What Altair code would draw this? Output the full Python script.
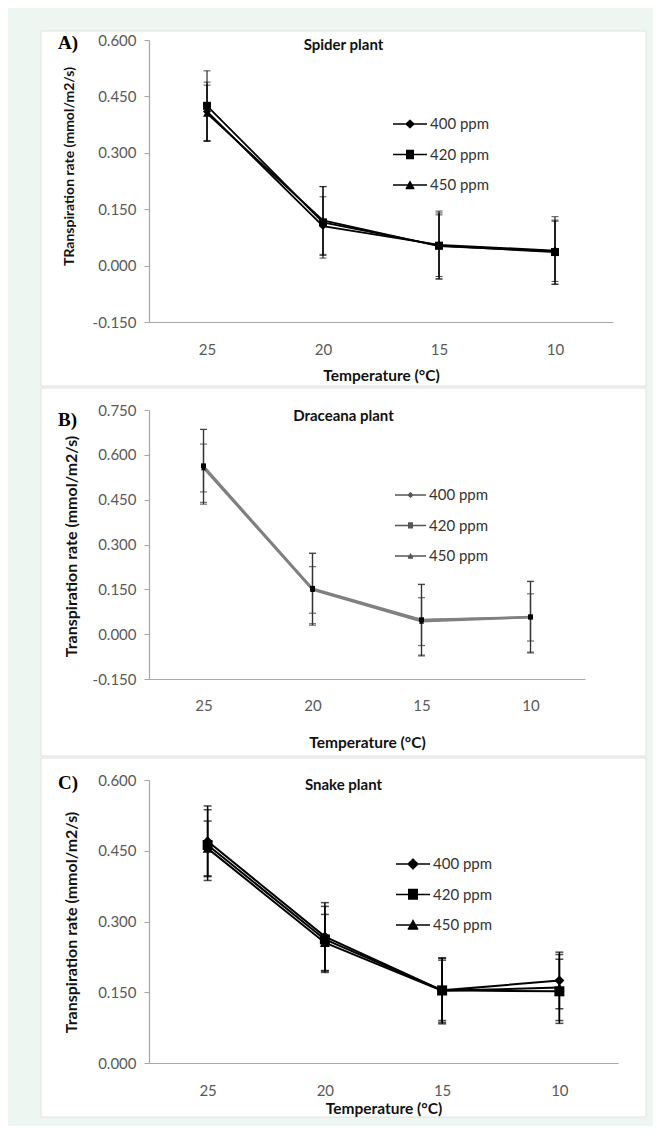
import altair as alt
import pandas as pd

# ---------------- data ----------------
temps = [25, 20, 15, 10]
series = ["400 ppm", "420 ppm", "450 ppm"]
panel_labels = ["A)", "B)", "C)"]
panel_titles = ["Spider plant", "Draceana plant", "Snake plant"]
y_titles = ["TRanspiration rate (mmol/m2/s)",
            "Transpiration rate (mmol/m2/s)",
            "Transpiration rate (mmol/m2/s)"]
x_title = "Temperature (°C)"

spider_400 = [0.410, 0.105, 0.055, 0.040]
spider_420 = [0.425, 0.115, 0.053, 0.036]
spider_450 = [0.405, 0.120, 0.052, 0.038]
spider_400_err = [0.078, 0.078, 0.090, 0.090]
spider_420_err = [0.093, 0.095, 0.082, 0.085]
spider_450_err = [0.075, 0.090, 0.088, 0.080]

draceana_400 = [0.560, 0.150, 0.047, 0.057]
draceana_420 = [0.563, 0.153, 0.048, 0.058]
draceana_450 = [0.556, 0.148, 0.042, 0.056]
draceana_400_err = [0.125, 0.120, 0.120, 0.120]
draceana_420_err = [0.122, 0.118, 0.118, 0.118]
draceana_450_err = [0.080, 0.078, 0.080, 0.079]

snake_400 = [0.470, 0.268, 0.154, 0.175]
snake_420 = [0.462, 0.262, 0.154, 0.152]
snake_450 = [0.455, 0.255, 0.153, 0.160]
snake_400_err = [0.075, 0.072, 0.068, 0.060]
snake_420_err = [0.075, 0.070, 0.064, 0.068]
snake_450_err = [0.058, 0.060, 0.070, 0.070]

y_ticks_a = [-0.15, 0.0, 0.15, 0.30, 0.45, 0.60]
y_ticks_b = [-0.15, 0.0, 0.15, 0.30, 0.45, 0.60, 0.75]
y_ticks_c = [0.0, 0.15, 0.30, 0.45, 0.60]


def build_df(vals, errs):
    rows = []
    for s, v, e in zip(series, vals, errs):
        for t, vi, ei in zip(temps, v, e):
            rows.append({"temp": t, "series": s, "value": vi, "err": ei})
    return pd.DataFrame(rows)


df_a = build_df([spider_400, spider_420, spider_450],
                [spider_400_err, spider_420_err, spider_450_err])
df_b = build_df([draceana_400, draceana_420, draceana_450],
                [draceana_400_err, draceana_420_err, draceana_450_err])
df_c = build_df([snake_400, snake_420, snake_450],
                [snake_400_err, snake_420_err, snake_450_err])

# ---------------- style ----------------
FONT = "Lato"
AXC = "#a6a6a6"
LBL = "#595959"
GREEN = "#edf6f1"


def hatch(halfwidth_fn, y0, y1, step=0.08):
    # marker drawn as dense horizontal strokes (legend symbols are stroked only)
    parts = []
    y = y0
    while y <= y1 + 1e-9:
        hw = halfwidth_fn(y)
        if hw > 0.02:
            parts.append(f"M{-hw:.3f},{y:.3f}H{hw:.3f}")
        y += step
    return "".join(parts)


def legend_paths(half, m):
    line = f"M-{half},0H{half}"
    diamond = hatch(lambda y: m * 1.1 - abs(y), -m * 1.1, m * 1.1)
    square = hatch(lambda y: m, -m, m)
    tri = hatch(lambda y: m * 1.1 * (y + m * 1.1) / (m * 2.0), -m * 1.1, m * 0.9)
    return [line + diamond, line + square, line + tri]


def panel(df, label, title, ytitle, yticks, st):
    x_axis = alt.Axis(title=x_title, labelAngle=0, ticks=False, tickSize=0,
                      labelPadding=st["xlp"], labelFont=FONT, labelFontSize=15,
                      labelColor=LBL, domainColor=AXC, domainWidth=1.2,
                      titleFont=FONT, titleFontSize=15.5, titleFontWeight="bold",
                      titleColor="#111111", titleY=st["xty"], titleBaseline="middle",
                      zindex=1)
    x = alt.X("temp:O", sort=temps, scale=alt.Scale(type="point", padding=0.5),
              axis=x_axis)
    y_scale = alt.Scale(domain=[yticks[0], yticks[-1]], nice=False, zero=False)
    y_axis = alt.Axis(values=yticks, grid=False, tickSize=5, tickColor=AXC,
                      domainColor=AXC, domainWidth=1.2, labelPadding=8,
                      labelFont=FONT, labelFontSize=15, labelColor=LBL,
                      labelExpr="(datum.value < 0 ? '-' : '') + format(abs(datum.value), '.3f')",
                      title=ytitle, titleFont=FONT, titleFontSize=st["ytfs"],
                      titleFontWeight="bold", titleColor="#111111",
                      titleX=st["ytx"], titleY=st["yty"], titleAlign="center",
                      titleBaseline="middle", zindex=1)

    def Y(field):
        return alt.Y(field, scale=y_scale, axis=y_axis)

    base = alt.Chart(df)

    bg = alt.Chart(pd.DataFrame({"k": [0]})).mark_rect(
        fill="white", stroke="#e2e2e2", strokeWidth=1
    ).encode(x=alt.value(-108), x2=alt.value(497),
             y=alt.value(st["top"]), y2=alt.value(st["bottom"]))

    err = base.transform_calculate(lo="datum.value - datum.err",
                                   hi="datum.value + datum.err")
    rules = err.mark_rule(color=st["ec"], strokeWidth=st["ew"]).encode(
        x=x, y=Y("lo:Q"), y2="hi:Q", detail="series:N")
    caps = err.transform_fold(["lo", "hi"], as_=["end", "yv"]).mark_tick(
        orient="horizontal", color=st["ec"], thickness=st["ew"], size=st["cap"]
    ).encode(x=x, y=Y("yv:Q"), detail="series:N")

    lines = base.mark_line(color=st["lc"], strokeWidth=st["lw"]).encode(
        x=x, y=Y("value:Q"), detail="series:N")

    points = base.mark_point(filled=True, color="black", opacity=1,
                             size=st["ms"]).encode(
        x=x, y=Y("value:Q"),
        shape=alt.Shape("series:N",
                        scale=alt.Scale(domain=series,
                                        range=["diamond", "square", "triangle-up"]),
                        legend=None))

    leg = base.transform_filter("datum.value > 100").mark_point(
        filled=False, color=st["legc"], strokeWidth=1.5, opacity=1, size=400
    ).encode(
        x=x, y=Y("value:Q"),
        shape=alt.Shape("series:N",
                        scale=alt.Scale(domain=series,
                                        range=legend_paths(st["lhalf"], st["lm"])),
                        legend=alt.Legend(title=None, orient="none",
                                          legendX=st["lx"], legendY=st["ly"],
                                          symbolSize=400, symbolStrokeWidth=1.5,
                                          symbolStrokeColor=st["legc"],
                                          symbolOpacity=1,
                                          labelFont=FONT, labelFontSize=15,
                                          labelColor="#333333",
                                          labelOffset=st["lo"], rowPadding=11.5,
                                          padding=0)))

    tag = alt.Chart(pd.DataFrame({"label": [label]})).mark_text(
        font="Liberation Serif", fontWeight="bold", fontSize=19,
        align="left", baseline="middle", color="black"
    ).encode(x=alt.value(-91), y=alt.value(st["tagy"]), text="label:N")

    ttl = alt.Chart(pd.DataFrame({"title": [title]})).mark_text(
        font=FONT, fontWeight="bold", fontSize=15, align="center",
        baseline="middle", color="#111111"
    ).encode(x=alt.value(194.5), y=alt.value(st["tty"]), text="title:N")

    return alt.layer(bg, rules, caps, lines, points, leg, tag, ttl).resolve_scale(
        shape="independent"
    ).properties(width=st["w"], height=st["h"])


st_a = dict(w=464, h=282, top=-9, bottom=346, xlp=20, xty=53, ytx=-80, yty=126,
            ytfs=14, ec="black", ew=1, cap=7, lc="black", lw=1.8, ms=64,
            legc="black", lx=250, ly=73, lo=9, lhalf=1.7, lm=0.4, tagy=3, tty=5)
st_b = dict(w=436, h=269, top=-22, bottom=346, xlp=19, xty=63, ytx=-78, yty=136,
            ytfs=16, ec="#333333", ew=1.2, cap=7, lc="#808080", lw=2, ms=25,
            legc="#555555", lx=250.5, ly=74, lo=7.5, lhalf=1.55, lm=0.25, tagy=10,
            tty=6)
st_c = dict(w=469, h=283, top=-22, bottom=337, xlp=20, xty=45, ytx=-78, yty=142,
            ytfs=16, ec="black", ew=1.5, cap=8, lc="black", lw=2, ms=100,
            legc="black", lx=253, ly=73, lo=9, lhalf=1.7, lm=0.5, tagy=3, tty=5)

pa = panel(df_a, panel_labels[0], panel_titles[0], y_titles[0], y_ticks_a, st_a)
pb = panel(df_b, panel_labels[1], panel_titles[1], y_titles[1], y_ticks_b, st_b)
pc = panel(df_c, panel_labels[2], panel_titles[2], y_titles[2], y_ticks_c, st_c)

chart = alt.vconcat(pa, pb, pc, spacing=0).properties(
    background=GREEN,
    padding={"left": 32, "top": 22, "right": 6, "bottom": 8},
).configure_view(stroke=None)

chart.save("out.html", embed_options={"renderer": "svg", "actions": False})
